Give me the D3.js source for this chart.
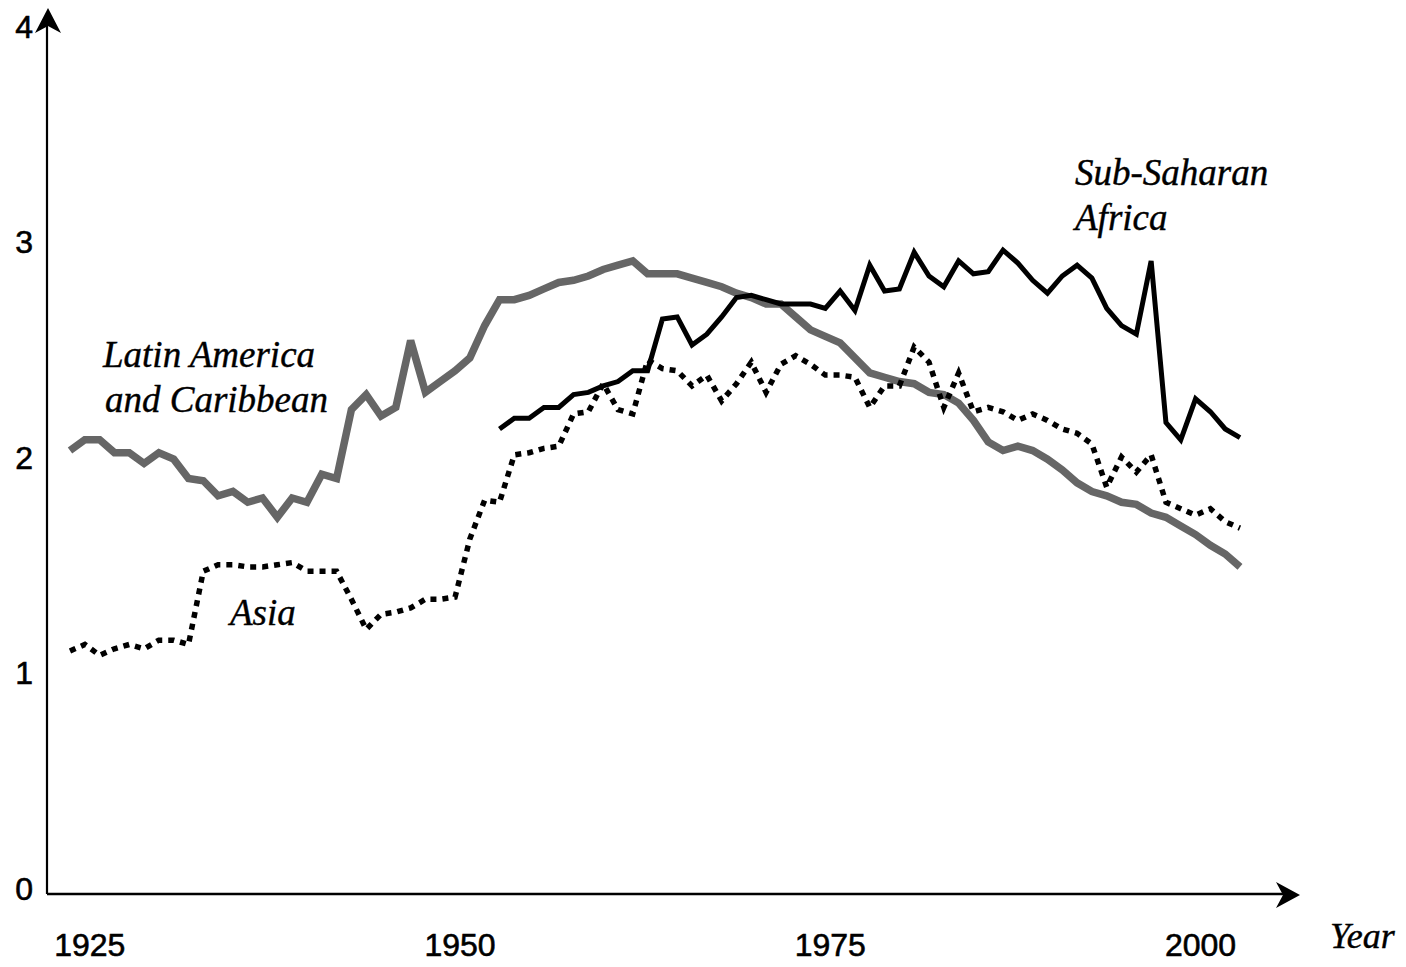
<!DOCTYPE html>
<meta charset="utf-8">
<html>
<head>
    <title>Regional series 1924-2003</title>
</head>
<style>
    *{ margin:0; padding:0;}
    body{ background:#fff;}
    .tick{ font-family:'Liberation Sans', Arial, sans-serif; font-size:32px; fill:#000; stroke:#000; stroke-width:0.6px;}
    .note{ font-family:'Liberation Serif', 'Times New Roman', serif; font-style:italic; font-size:37px; fill:#000; stroke:#000; stroke-width:0.4px;}
</style>
<script src="https://cdn.jsdelivr.net/npm/d3@7"></script>
<div id="chartContainer"></div>
<script type="text/javascript">

    // values, one per year
    var latinStart = 1924;
    var latinValues = [2.03, 2.08, 2.08, 2.02, 2.02, 1.97, 2.02, 1.99, 1.90, 1.89,
        1.82, 1.84, 1.79, 1.81, 1.72, 1.81, 1.79, 1.92, 1.90, 2.22,
        2.29, 2.19, 2.23, 2.54, 2.30, 2.35, 2.40, 2.46, 2.61, 2.73,
        2.73, 2.75, 2.78, 2.81, 2.82, 2.84, 2.87, 2.89, 2.91, 2.85,
        2.85, 2.85, 2.83, 2.81, 2.79, 2.76, 2.74, 2.71, 2.71, 2.65,
        2.59, 2.56, 2.53, 2.46, 2.39, 2.37, 2.35, 2.34, 2.30, 2.29,
        2.25, 2.17, 2.07, 2.03, 2.05, 2.03, 1.99, 1.94, 1.88, 1.84,
        1.82, 1.79, 1.78, 1.74, 1.72, 1.68, 1.64, 1.59, 1.55, 1.49];

    var asiaStart = 1924;
    var asiaValues = [1.10, 1.13, 1.08, 1.11, 1.13, 1.11, 1.15, 1.15, 1.13, 1.47,
        1.50, 1.50, 1.49, 1.49, 1.50, 1.51, 1.47, 1.47, 1.47, 1.34,
        1.20, 1.27, 1.28, 1.30, 1.34, 1.34, 1.35, 1.62, 1.80, 1.79,
        2.01, 2.02, 2.04, 2.05, 2.20, 2.21, 2.34, 2.22, 2.20, 2.45,
        2.41, 2.40, 2.33, 2.38, 2.26, 2.34, 2.44, 2.30, 2.43, 2.47,
        2.43, 2.38, 2.38, 2.37, 2.23, 2.33, 2.33, 2.51, 2.44, 2.23,
        2.39, 2.21, 2.23, 2.21, 2.17, 2.20, 2.17, 2.13, 2.11, 2.06,
        1.86, 2.00, 1.93, 2.01, 1.79, 1.76, 1.73, 1.76, 1.70, 1.67];

    var africaStart = 1953;
    var africaValues = [2.13, 2.18, 2.18, 2.23, 2.23, 2.29, 2.30, 2.33, 2.35, 2.40,
        2.40, 2.64, 2.65, 2.52, 2.57, 2.65, 2.74, 2.75, 2.73, 2.71,
        2.71, 2.71, 2.69, 2.77, 2.68, 2.89, 2.77, 2.78, 2.95, 2.84,
        2.79, 2.91, 2.85, 2.86, 2.96, 2.90, 2.82, 2.76, 2.84, 2.89,
        2.83, 2.69, 2.61, 2.57, 2.91, 2.16, 2.08, 2.27, 2.21, 2.13, 2.09];

    var yTicks = [0, 1, 2, 3, 4];
    var xTicks = [1925, 1950, 1975, 2000];
    var latinLabel = ["Latin America", "and Caribbean"];
    var africaLabel = ["Sub-Saharan", "Africa"];
    var asiaLabel = ["Asia"];
    var xTitle = "Year";

    function toRows(start, values) {
        return values.map(function (v, i) { return { year: start + i, value: v }; });
    }

    var width = 1406, height = 967;
    var axisX = 47, axisY = 894;

    var svg = d3.select("#chartContainer").append("svg")
        .attr("width", width)
        .attr("height", height);

    var x = d3.scaleLinear().domain([1924, 2003]).range([70, 1240]);
    var y = d3.scaleLinear().domain([0, 4]).range([888, 26]);

    // axes: plain lines with notched arrow heads, no tick marks
    svg.append("line")
        .attr("x1", axisX).attr("y1", axisY)
        .attr("x2", axisX).attr("y2", 20)
        .attr("stroke", "#000").attr("stroke-width", 2.2);
    svg.append("path")
        .attr("d", "M" + (axisX + 1) + ",8 L" + (axisX + 14) + ",33 L" + (axisX + 1) + ",26 L" + (axisX - 12) + ",33 Z")
        .attr("fill", "#000");

    svg.append("line")
        .attr("x1", axisX).attr("y1", axisY)
        .attr("x2", 1288).attr("y2", axisY)
        .attr("stroke", "#000").attr("stroke-width", 2.5);
    svg.append("path")
        .attr("d", "M1300," + (axisY + 1) + " L1276," + (axisY - 12) + " L1283," + (axisY + 1) + " L1276," + (axisY + 14) + " Z")
        .attr("fill", "#000");

    svg.selectAll(".ylab").data(yTicks).enter().append("text")
        .attr("class", "tick")
        .attr("x", 33)
        .attr("y", function (d) { return y(d); })
        .attr("dy", "0.36em")
        .attr("text-anchor", "end")
        .text(function (d) { return d; });

    svg.selectAll(".xlab").data(xTicks).enter().append("text")
        .attr("class", "tick")
        .attr("x", function (d) { return x(d) + 5; })
        .attr("y", 956)
        .attr("text-anchor", "middle")
        .text(function (d) { return d; });

    svg.append("text").attr("class", "note")
        .attr("x", 1330).attr("y", 948)
        .style("font-size", "36px")
        .text(xTitle);

    var line = d3.line()
        .x(function (d) { return x(d.year); })
        .y(function (d) { return y(d.value); });

    // Latin America - thick grey
    svg.append("path")
        .datum(toRows(latinStart, latinValues))
        .attr("d", line)
        .attr("fill", "none")
        .attr("stroke", "#666666")
        .attr("stroke-width", 7.5);

    // Asia - dotted black
    svg.append("path")
        .datum(toRows(asiaStart, asiaValues))
        .attr("d", line)
        .attr("fill", "none")
        .attr("stroke", "#000")
        .attr("stroke-width", 5.5)
        .attr("stroke-dasharray", "6,6");

    // Sub-Saharan Africa - solid black
    svg.append("path")
        .datum(toRows(africaStart, africaValues))
        .attr("d", line)
        .attr("fill", "none")
        .attr("stroke", "#000")
        .attr("stroke-width", 5);

    // series names written next to the lines
    svg.selectAll(".latin").data(latinLabel).enter().append("text")
        .attr("class", "note")
        .attr("x", function (d, i) { return i ? 105 : 103; })
        .attr("y", function (d, i) { return 367 + i * 45; })
        .text(function (d) { return d; });

    svg.selectAll(".africa").data(africaLabel).enter().append("text")
        .attr("class", "note")
        .attr("x", 1075)
        .attr("y", function (d, i) { return 185 + i * 45; })
        .text(function (d) { return d; });

    svg.append("text").attr("class", "note")
        .attr("x", 230).attr("y", 625)
        .text(asiaLabel[0]);

</script>
</html>
